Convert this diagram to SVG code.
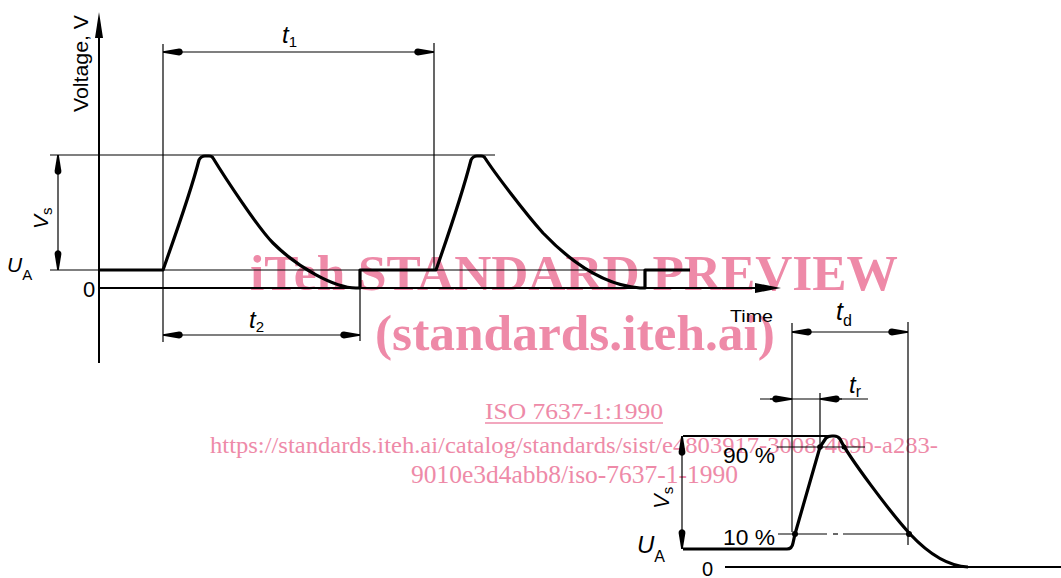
<svg xmlns="http://www.w3.org/2000/svg" width="1061" height="578" viewBox="0 0 1061 578">
<style>
.thin{stroke:#000;stroke-width:1.2;fill:none}
.med{stroke:#000;stroke-width:2;fill:none}
.sig{stroke:#000;stroke-width:3.2;fill:none;stroke-linejoin:round;stroke-linecap:butt}
.dim{stroke:#000;stroke-width:1.2;fill:none}
.lbl{font-family:"Liberation Sans",Arial,sans-serif;fill:#000}
.it{font-style:italic}
.wm{font-family:"Liberation Serif","Times New Roman",serif;fill:#ee8aa8}
.wmb{font-weight:bold}
.dot{fill:#000}
</style>
<defs>
<marker id="ah" viewBox="-22 -5 23 10" refX="0" refY="0" markerWidth="23" markerHeight="10" markerUnits="userSpaceOnUse" orient="auto-start-reverse">
<path d="M0,-0.8 L-16,-3.4 C-21,-3.6 -21,3.6 -16,3.4 L0,0.8 Z" fill="#000"/>
</marker>
</defs>
<rect width="1061" height="578" fill="#fff"/>

<g id="watermark">
<text class="wm wmb" x="574" y="290" font-size="50" text-anchor="middle" textLength="648" lengthAdjust="spacingAndGlyphs">iTeh STANDARD PREVIEW</text>
<text class="wm wmb" x="575" y="350" font-size="50" text-anchor="middle" textLength="400" lengthAdjust="spacingAndGlyphs">(standards.iteh.ai)</text>
<text class="wm" x="574" y="419" font-size="24" text-anchor="middle" textLength="178" lengthAdjust="spacingAndGlyphs">ISO 7637-1:1990</text>
<line x1="485" y1="423" x2="663" y2="423" stroke="#ee8aa8" stroke-width="1.3"/>
<text class="wm" x="574" y="453" font-size="24" text-anchor="middle" textLength="728" lengthAdjust="spacingAndGlyphs">https://standards.iteh.ai/catalog/standards/sist/e4803917-3008-409b-a283-</text>
<text class="wm" x="574.5" y="483" font-size="25" text-anchor="middle" textLength="327" lengthAdjust="spacingAndGlyphs">9010e3d4abb8/iso-7637-1-1990</text>
</g>

<g id="main-axes">
<line class="med" x1="99" y1="36" x2="99" y2="363"/>
<polygon points="99,12 95,38 103,38" fill="#000"/>
<line class="med" x1="99" y1="288" x2="758" y2="288"/>
<polygon points="781,288 755,283 755,293" fill="#000"/>
</g>

<g id="main-reference-lines">
<line class="thin" x1="50" y1="155" x2="495" y2="155"/>
<line class="thin" x1="50" y1="270" x2="690" y2="270"/>
<line class="thin" x1="163" y1="44" x2="163" y2="342"/>
<line class="thin" x1="434" y1="43" x2="434" y2="270"/>
<line class="thin" x1="360" y1="270" x2="360" y2="341"/>
</g>

<g id="main-signal">
<path class="sig" d="M100,270 L163,270 C170,250 190,195 199,160 Q201,156 205,156 L209,156 Q212,156 213,158 C224,176 258,228 273,243 C298,268 335,288 356,288 L360,288 L360,270 L436,270 C443,250 462,195 471,160 Q473,156 477,156 L481,156 Q484,156 485,158 C494,172 525,213 543,233 C565,256 600,285 640,288 L645,288 L645,270 L690,270"/>
</g>

<g id="connectors">
<line class="dim" x1="163" y1="52" x2="434" y2="52" marker-start="url(#ah)" marker-end="url(#ah)"/>
<line class="dim" x1="163" y1="335" x2="360" y2="335" marker-start="url(#ah)" marker-end="url(#ah)"/>
<line class="dim" x1="58" y1="155" x2="58" y2="270" marker-start="url(#ah)" marker-end="url(#ah)"/>
<line class="dim" x1="792" y1="332" x2="908" y2="332" marker-start="url(#ah)" marker-end="url(#ah)"/>
<line class="dim" x1="682" y1="436" x2="682" y2="549" marker-start="url(#ah)" marker-end="url(#ah)"/>
<line class="dim" x1="760" y1="399" x2="868" y2="399"/>
<path class="dim" d="M770,399 L792,399" marker-end="url(#ah)"/>
<path class="dim" d="M842,399 L820,399" marker-end="url(#ah)"/>
</g>

<g id="main-labels">
<text class="lbl" transform="translate(88,112) rotate(-90)" font-size="20" textLength="97" lengthAdjust="spacingAndGlyphs">Voltage, V</text>
<text class="lbl" x="282" y="43" font-size="24"><tspan class="it">t</tspan><tspan font-size="15" dy="4">1</tspan></text>
<text class="lbl" x="249" y="328" font-size="24"><tspan class="it">t</tspan><tspan font-size="15" dy="4">2</tspan></text>
<text class="lbl" transform="translate(48,229) rotate(-90)" font-size="21"><tspan class="it">V</tspan><tspan font-size="15" dy="4">s</tspan></text>
<text class="lbl" x="7" y="272" font-size="21"><tspan class="it">U</tspan><tspan font-size="15" dy="8">A</tspan></text>
<text class="lbl" x="83" y="297" font-size="22">0</text>
<text class="lbl" x="730" y="322" font-size="17" textLength="43" lengthAdjust="spacingAndGlyphs">Time</text>
</g>

<g id="detail-lines">
<line class="med" x1="683" y1="436" x2="830" y2="436"/>
<line class="thin" x1="777" y1="447" x2="865" y2="447"/>
<line class="thin" x1="778" y1="534" x2="827" y2="534"/>
<line class="thin" x1="833" y1="534" x2="838" y2="534"/>
<line class="thin" x1="843" y1="534" x2="910" y2="534"/>
<line class="thin" x1="792" y1="323" x2="792" y2="532"/>
<line class="thin" x1="908" y1="322" x2="908" y2="545"/>
<line class="thin" x1="820" y1="393" x2="820" y2="448"/>
<line class="med" x1="725" y1="567" x2="1061" y2="567"/>
</g>

<g id="detail-signal">
<path class="sig" d="M683,549 L787,549 Q792,549 793,543 L795,534 L820,447 L826,438 Q828,436 832,436 L834,436 Q838,436 840,439 C848,456 890,512 910,534 C925,550 945,566 968,567"/>
<circle class="dot" cx="795" cy="534" r="3"/>
<circle class="dot" cx="909" cy="534" r="3"/>
<circle class="dot" cx="820" cy="447" r="2.8"/>
<circle class="dot" cx="844" cy="447" r="2.5"/>
</g>

<g id="detail-labels">
<text class="lbl" x="836" y="320" font-size="25"><tspan class="it">t</tspan><tspan font-size="16" dy="6">d</tspan></text>
<text class="lbl" x="849" y="393" font-size="24"><tspan class="it">t</tspan><tspan font-size="16" dy="4">r</tspan></text>
<text class="lbl" x="723" y="463" font-size="22" textLength="52" lengthAdjust="spacingAndGlyphs">90 %</text>
<text class="lbl" x="723" y="545" font-size="22" textLength="52" lengthAdjust="spacingAndGlyphs">10 %</text>
<text class="lbl" transform="translate(669,509) rotate(-90)" font-size="22"><tspan class="it">V</tspan><tspan font-size="15" dy="4">s</tspan></text>
<text class="lbl" x="637" y="553" font-size="24"><tspan class="it">U</tspan><tspan font-size="16" dy="9">A</tspan></text>
<text class="lbl" x="702" y="576" font-size="20">0</text>
</g>
</svg>
